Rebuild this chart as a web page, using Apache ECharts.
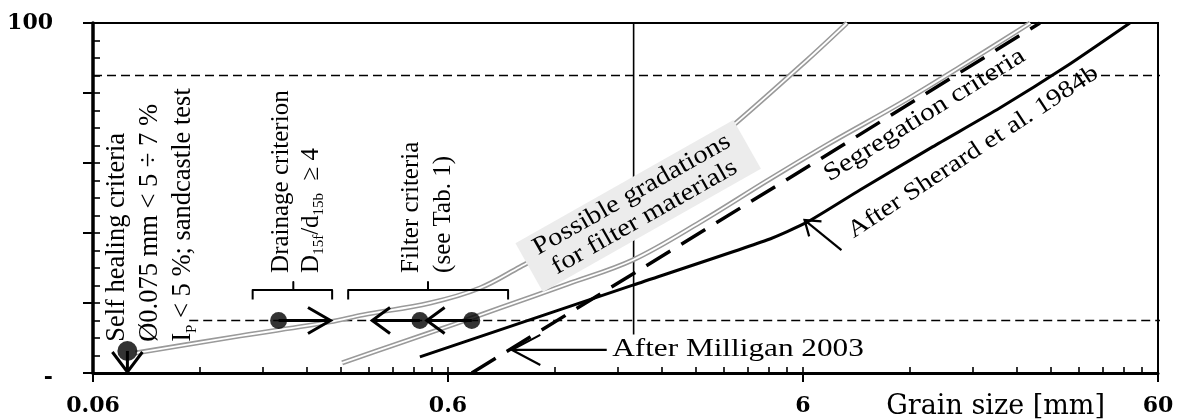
<!DOCTYPE html>
<html>
<head>
<meta charset="utf-8">
<script src="https://cdn.jsdelivr.net/npm/echarts@6/dist/echarts.min.js"></script>
<style>html,body{margin:0;padding:0;background:#fff;}#c{width:1184px;height:419px;}</style>
</head>
<body>
<div id="c"></div>
<script>
// ---------- data (grain size in mm, mass percent passing in %) ----------
const X_MIN = 0.06, X_MAX = 60;
const xTickLabels = ['0.06', '0.6', '6', '60'];
const xMinorMultipliers = [2, 3, 4, 5, 6, 7, 8, 9];
const yTickLabels = { 0: '-', 100: '100' };

const gradationFine = [[0.079,5.7],[0.156,10.6],[0.279,14.6],[0.346,16.6],[0.534,20.0],[0.739,24.3],[0.957,30.3],[1.32,38.0],[1.83,46.6],[2.62,57.4],[3.74,70.0],[6.16,89.4],[7.98,100]];
const gradationCoarse = [[0.302,2.9],[0.440,8.6],[0.628,14.0],[0.841,18.6],[1.30,25.4],[1.99,32.3],[3.08,43.1],[4.75,54.9],[7.15,65.7],[11.3,77.1],[16.6,87.4],[26.2,100]];
const milligan2003 = [[0.70,0],[1.99,28.3],[6.70,61.1],[27.9,100]];
const sherard1984b = [[0.50,4.6],[1.99,25.1],[4.75,38.0],[6.16,43.1],[8.68,52.3],[13.9,64.6],[21.5,75.7],[33.2,87.7],[50,100]];
const splitMm = [[2,11],[2,100]];
const refLine85 = [[0.06,85],[62.3,85]];
const refLine15 = [[0.112,15],[62.3,15]];

const selfHealingPoint = [[0.075,6.3]];
const drainagePoint = [[0.20,15]];
const filterPoints = [[0.50,15],[0.70,15]];

const selfHealingArrow = [[0.075,6.3],[0.075,0.3]];
const drainageArrow = [[0.20,15],[0.28,15]];
const filterArrowA = [[0.70,15],[0.523,15]];
const filterArrowB = [[0.50,15],[0.367,15]];
const milliganArrow = [[1.68,6.6],[0.909,6.6]];
const sherardArrow = [[7.7,35.1],[6.06,43.7]];

const drainageBracket = [[0.169,21],[0.169,23.7],[0.22,23.7],[0.22,26],[0.22,23.7],[0.283,23.7],[0.283,21]];
const filterBracket = [[0.314,21],[0.314,23.7],[0.527,23.7],[0.527,26],[0.527,23.7],[0.886,23.7],[0.886,21]];

// annotation anchors (data space)
const selfHealingAnchor = [0.0868, 8.9];
const drainageAnchor = [0.224, 28.6];
const filterAnchor = [0.524, 28.6];
const gradationsAnchor = [2.06, 47.7];
const segregationAnchor = [13.2, 73.7];
const sherardAnchor = [18.1, 63.1];
const milliganAnchor = [1.74, 6.6];

// ---------- helpers ----------
const toT = mm => Math.log10(mm / X_MIN);
const tData = arr => arr.map(p => [toT(p[0]), p[1]]);
const minorTickT = [];
for (let d = 0; d < 3; d++) {
  minorTickT.push(d);
  xMinorMultipliers.forEach(k => minorTickT.push(d + Math.log10(k)));
}
minorTickT.push(3);

const SERIF = '"Liberation Serif", "Times New Roman", serif';
const WIDE_SERIF = '"DejaVu Serif", serif';

function lineSeries(name, data, color, width, opts) {
  return Object.assign({
    name, type: 'line', data: tData(data), showSymbol: false, symbol: 'none',
    lineStyle: { color, width, type: 'solid', cap: 'butt', join: 'round' },
    silent: true, z: 3
  }, opts || {});
}

const arrowStyles = {
  selfHealing: { len: 25, half: 37, width: 3 },
  drainage: { len: 26, half: 30, width: 3 },
  filter: { len: 22, half: 36, width: 3 },
  milligan: { len: 32, half: 28, width: 2.2 },
  sherard: { len: 17, half: 35, width: 2.2 }
};

function arrowSeries(name, pts, st) {
  const a = tData(pts);
  return {
    name, type: 'custom', silent: true, z: 6,
    data: [[a[0][0], a[0][1], a[1][0], a[1][1]]],
    encode: { x: [0, 2], y: [1, 3] },
    renderItem: function (params, api) {
      const p1 = api.coord([api.value(0), api.value(1)]);
      const p2 = api.coord([api.value(2), api.value(3)]);
      const ang = Math.atan2(p2[1] - p1[1], p2[0] - p1[0]);
      const h = st.half * Math.PI / 180;
      const l = [p2[0] - st.len * Math.cos(ang - h), p2[1] - st.len * Math.sin(ang - h)];
      const r = [p2[0] - st.len * Math.cos(ang + h), p2[1] - st.len * Math.sin(ang + h)];
      return {
        type: 'group',
        children: [
          { type: 'line', shape: { x1: p1[0], y1: p1[1], x2: p2[0], y2: p2[1] }, style: { stroke: '#000', lineWidth: st.width } },
          { type: 'polyline', shape: { points: [l, p2, r] }, style: { stroke: '#000', fill: null, lineWidth: st.width, lineJoin: 'miter' } }
        ]
      };
    }
  };
}

const smoothCurve = { smooth: 0.35 };
const tickFont = { color: '#000', fontFamily: WIDE_SERIF, fontSize: 22, fontWeight: 'bold' };

const option = {
  animation: false,
  backgroundColor: '#fff',
  grid: { left: 93, right: 26, top: 23, bottom: 46, containLabel: false, outerBoundsMode: 'none',
    show: true, borderColor: '#000', borderWidth: 2, backgroundColor: 'transparent' },
  xAxis: [
    {
      type: 'value', min: 0, max: 3, interval: 1, position: 'bottom',
      axisLine: { show: true, onZero: false, lineStyle: { color: '#000', width: 3 } },
      axisTick: { show: true, inside: false, length: 9, lineStyle: { color: '#000', width: 2 } },
      axisLabel: Object.assign({ margin: 22,
        formatter: v => { const i = Math.round(v); return Math.abs(v - i) < 1e-6 ? xTickLabels[i] : ''; } }, tickFont),
      splitLine: { show: false },
      name: 'Grain size [mm]', nameLocation: 'end', nameGap: -53,
      nameTextStyle: { color: '#000', fontFamily: WIDE_SERIF, fontSize: 27, align: 'right', verticalAlign: 'top', padding: [20, 0, 0, 0] }
    },
    {
      type: 'value', min: 0, max: 3, position: 'bottom',
      axisLine: { show: false },
      axisTick: { show: true, inside: true, length: 6, customValues: minorTickT, lineStyle: { color: '#000', width: 1.6 } },
      axisLabel: { show: false },
      splitLine: { show: false }
    }
  ],
  yAxis: [
    {
      type: 'value', min: 0, max: 100, interval: 20, position: 'left',
      axisLine: { show: true, onZero: false, lineStyle: { color: '#000', width: 3.5 } },
      axisTick: { show: true, inside: false, length: 10, lineStyle: { color: '#000', width: 2 } },
      axisLabel: Object.assign({ margin: 40,
        formatter: v => v === 0 ? '{d|-}' : (yTickLabels[v] || ''),
        rich: { d: Object.assign({ padding: [10, 0, 0, 0] }, tickFont) } }, tickFont),
      splitLine: { show: false },
      name: 'Mass percent passing [%]', nameLocation: 'middle', nameGap: 42, nameRotate: 90,
      nameTextStyle: { color: '#000', fontFamily: SERIF, fontSize: 29, padding: [0, 60, 0, 0] }
    },
    {
      type: 'value', min: 0, max: 100, interval: 5, position: 'left',
      axisLine: { show: false },
      axisTick: { show: true, inside: true, length: 7, lineStyle: { color: '#000', width: 1.6 } },
      axisLabel: { show: false },
      splitLine: { show: false }
    }
  ],
  series: [
    lineSeries('ref85', refLine85, '#000', 1.5, { lineStyle: { color: '#000', width: 1.5, type: [9, 5] }, clip: false, z: 1 }),
    lineSeries('ref15', refLine15, '#000', 1.5, { lineStyle: { color: '#000', width: 1.5, type: [9, 5] }, clip: false, z: 1 }),
    lineSeries('2 mm', splitMm, '#000', 1.6, { z: 2 }),
    lineSeries('fine outer', gradationFine, '#9a9a9a', 5, smoothCurve),
    lineSeries('fine inner', gradationFine, '#ffffff', 1.8, Object.assign({ z: 4 }, smoothCurve)),
    lineSeries('coarse outer', gradationCoarse, '#9a9a9a', 5, smoothCurve),
    lineSeries('coarse inner', gradationCoarse, '#ffffff', 1.8, Object.assign({ z: 4 }, smoothCurve)),
    lineSeries('After Milligan 2003', milligan2003, '#000', 3.5, { lineStyle: { color: '#000', width: 3.5, type: [28, 13] }, z: 5 }),
    lineSeries('After Sherard et al. 1984b', sherard1984b, '#000', 3, { smooth: 0.2, z: 5 }),
    lineSeries('drainage bracket', drainageBracket, '#000', 2, { z: 5 }),
    lineSeries('filter bracket', filterBracket, '#000', 2, { z: 5 }),
    arrowSeries('self healing arrow', selfHealingArrow, arrowStyles.selfHealing),
    arrowSeries('drainage arrow', drainageArrow, arrowStyles.drainage),
    arrowSeries('filter arrow a', filterArrowA, arrowStyles.filter),
    arrowSeries('filter arrow b', filterArrowB, arrowStyles.filter),
    arrowSeries('milligan arrow', milliganArrow, arrowStyles.milligan),
    arrowSeries('sherard arrow', sherardArrow, arrowStyles.sherard),
    { name: 'self healing', type: 'scatter', data: tData(selfHealingPoint), symbol: 'circle', symbolSize: 20, itemStyle: { color: '#000' }, z: 7, silent: true },
    { name: 'drainage', type: 'scatter', data: tData(drainagePoint), symbol: 'circle', symbolSize: 17, itemStyle: { color: '#000' }, z: 7, silent: true },
    { name: 'filter', type: 'scatter', data: tData(filterPoints), symbol: 'circle', symbolSize: 17, itemStyle: { color: '#000' }, z: 7, silent: true }
  ]
};

const chart = echarts.init(document.getElementById('c'), null, { renderer: 'canvas' });
chart.setOption(option);

const px = p => chart.convertToPixel({ gridIndex: 0 }, [toT(p[0]), p[1]]);
const deg = d => d * Math.PI / 180;
const subRich = { sub: { fontFamily: SERIF, fontSize: 15, verticalAlign: 'bottom', lineHeight: 16, fill: '#000' } };

function textEl(anchor, text, o) {
  const p = px(anchor);
  const size = o.size || 25;
  return {
    type: 'text', x: p[0], y: p[1], rotation: o.rotation || 0,
    scaleX: o.scaleX || 1, scaleY: o.scaleY || 1, z: 100, silent: true,
    style: Object.assign({
      text, fill: '#000', font: size + 'px ' + SERIF,
      fontSize: size, fontFamily: SERIF,
      align: o.align || 'left', textAlign: o.align || 'left',
      verticalAlign: o.vAlign || 'middle', textVerticalAlign: o.vAlign || 'middle',
      lineHeight: o.lineHeight || size * 1.2,
      rich: o.rich
    }, o.extra || {})
  };
}

const graphics = [
  textEl(selfHealingAnchor, 'Self healing criteria\nØ0.075 mm < 5 ÷ 7 %\nI{sub|P} < 5 %; sandcastle test',
    { rotation: deg(90), size: 26.5, lineHeight: 33, rich: subRich }),
  textEl(drainageAnchor, 'Drainage criterion\nD{sub|15f}/d{sub|15b}  ≥ 4',
    { rotation: deg(90), size: 25, lineHeight: 30, rich: subRich }),
  textEl(filterAnchor, 'Filter criteria\n(see Tab. 1)',
    { rotation: deg(90), size: 25, lineHeight: 32 }),
  textEl(gradationsAnchor, 'Possible gradations\nfor filter materials',
    { rotation: deg(29.5), size: 25, lineHeight: 26, align: 'center', scaleX: 1.15,
      extra: { backgroundColor: '#ececec', padding: [2, 12, 2, 12] } }),
  textEl(segregationAnchor, 'Segregation criteria',
    { rotation: deg(31.8), size: 25, align: 'center', scaleX: 1.18 }),
  textEl(sherardAnchor, 'After Sherard et al. 1984b',
    { rotation: deg(33.4), size: 24, align: 'center', scaleX: 1.18 }),
  textEl(milliganAnchor, 'After Milligan 2003',
    { size: 25, align: 'left', scaleX: 1.25 })
];
chart.setOption({ graphic: { elements: graphics } });
</script>
</body>
</html>
